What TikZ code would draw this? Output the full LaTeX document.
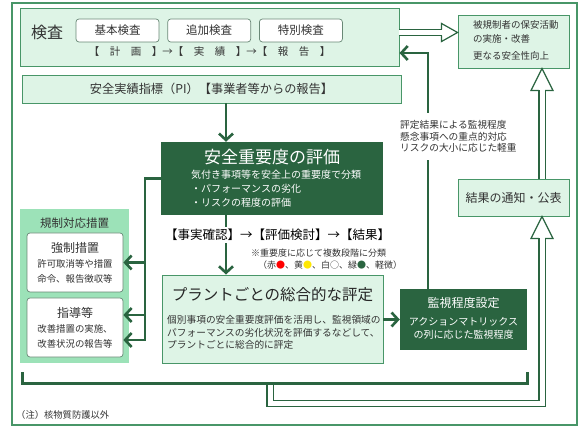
\documentclass[tikz,border=0pt]{standalone}
\usepackage{fontspec}
\setmainfont{Noto Sans CJK JP}
\usepackage{tikz}
\usetikzlibrary{arrows.meta,calc,positioning}

\definecolor{dkgreen}{RGB}{42,100,64}
\definecolor{edgegreen}{RGB}{72,150,104}
\definecolor{palegreen}{RGB}{222,244,230}
\definecolor{panelgreen}{RGB}{156,226,184}
\definecolor{inkgray}{RGB}{51,51,51}
\newcommand{\fsz}[2]{\fontsize{#1}{#2}\selectfont}

\begin{document}
\begin{tikzpicture}[x=1pt, y=-1pt,
    lightbox/.style={draw=edgegreen, fill=palegreen, line width=0.9pt, rectangle},
    darkbox/.style={fill=dkgreen, rectangle},
    subbox/.style={draw=gray!60!edgegreen, fill=white, rounded corners=3pt, line width=0.7pt, text=inkgray},
    txt/.style={inner sep=0pt, text=inkgray},
    conn/.style={draw=dkgreen, line width=2.6pt},
    arr/.style={conn, -{Straight Barb[length=6.5pt,width=14pt]}},
    hollow/.style={draw=dkgreen, line width=1.2pt, double=white, double distance=5pt},
    headline/.style={draw=dkgreen, line width=1.2pt, line join=miter}]

              \useasboundingbox (0,0) rectangle (586,435);

              % Outer frame
              \draw[draw=edgegreen, line width=1.4pt] (12,3) rectangle (577,425);

              % Inspection block
              \node[lightbox, minimum width=379pt, minimum height=58pt] (kensa) at (209.5,37) {};
              \node[txt, font=\fsz{16}{16}] (kensaT) at (47,32) {検査};
              \node[subbox, minimum width=83pt, minimum height=23pt, font=\fsz{11.5}{12}] (kihon) at (117.5,30.5) {基本検査};
              \node[subbox, minimum width=83pt, minimum height=23pt, font=\fsz{11.5}{12}, right=8pt of kihon] (tsuika) {追加検査};
              \node[subbox, minimum width=83pt, minimum height=23pt, font=\fsz{11.5}{12}, right=8pt of tsuika] (tokubetsu) {特別検査};
              \node[txt, font=\fsz{10.5}{12}] (kflow) at (209.5,52) {【　計　画　】→【　実　績　】→【　報　告　】};

              % PI box
              \node[lightbox, minimum width=379pt, minimum height=28pt, font=\fsz{12.2}{13}, text=inkgray] (pi) at (211.5,89) {安全実績指標（PI）【事業者等からの報告】};

              % Safety significance box
              \node[darkbox, minimum width=222pt, minimum height=73pt] (anzen) at (272,178.5) {};
              \node[txt, text=white, font=\fsz{17}{17}] (anzenT) at (272,157) {安全重要度の評価};
              \node[txt, text=white, font=\fsz{10}{14}, align=left, anchor=west] (anzenB) at (191,189) {気付き事項等を安全上の重要度で分類\\・パフォーマンスの劣化\\・リスクの程度の評価};

              % Plant assessment box
              \node[lightbox, minimum width=221pt, minimum height=88pt] (plant) at (272.5,319) {};
              \node[txt, font=\fsz{15.5}{16}, text=black!85] (plantT) at (272.5,295) {プラントごとの総合的な評定};
              \node[txt, font=\fsz{9.7}{12.5}, align=left, anchor=west] (plantB) at (167,332.5) {個別事項の安全重要度評価を活用し、監視領域の\\パフォーマンスの劣化状況を評価するなどして、\\プラントごとに総合的に評定};

              % Oversight level box
              \node[darkbox, minimum width=127pt, minimum height=61pt] (kanshi) at (463.5,319.5) {};
              \node[txt, text=white, font=\fsz{12}{12}] (kanshiT) at (463.5,303) {監視程度設定};
              \node[txt, text=white, font=\fsz{10}{13}, align=center] (kanshiB) at (463.5,328.5) {アクションマトリックス\\の列に応じた監視程度};

              % Licensee box and notice box
              \node[lightbox, minimum width=111pt, minimum height=53pt] (hiki) at (513.5,41.5) {};
              \node[txt, font=\fsz{9.5}{14}, align=left, anchor=west] (hikiB) at (473,40) {被規制者の保安活動\\の実施・改善\\[3pt]更なる安全性向上};
              \node[lightbox, minimum width=111pt, minimum height=37pt, font=\fsz{12}{12}, text=inkgray] (kekka) at (513.5,197.5) {結果の通知・公表};

              % Regulatory measures panel
              \node[fill=panelgreen, minimum width=109pt, minimum height=154pt] (panel) at (74.5,286) {};
              \node[txt, font=\fsz{11.5}{11}, text=black!80] (panelT) at (74.5,223) {規制対応措置};
              \node[subbox, minimum width=96pt, minimum height=59pt, align=center, font=\fsz{9.4}{15}] (kyousei) at (75,262.5) {{\fsz{12}{15}強制措置}\\許可取消等や措置\\命令、報告徴収等};
              \node[subbox, minimum width=96pt, minimum height=59pt, align=center, font=\fsz{9.4}{15}] (shidou) at (75,327.5) {{\fsz{12}{15}指導等}\\改善措置の実施、\\改善状況の報告等};

              % Main flow arrows
              \coordinate (spine) at (226,0);
              \draw[arr] (pi.south -| spine) -- (anzen.north -| spine);
              \draw[arr] (anzen.south -| spine) -- (plant.north -| spine);
              \node[fill=white, inner sep=2pt, font=\fsz{12.5}{13}, text=black] (jijitsu) at (277.5,235) {【事実確認】→【評価検討】→【結果】};
              \node[txt, font=\fsz{9}{10}, anchor=west] (note1) at (251,253) {※重要度に応じて複数段階に分類};
              \node[txt, font=\fsz{9}{10}, anchor=west] (note2) at (258,265) {（赤\textcolor{red}{●}、黄\textcolor{yellow!90!orange}{●}、白○、緑\textcolor{dkgreen}{●}、軽微）};
              \draw[arr] (plant.east |- kanshi.west) -- (kanshi.west);

              % Arrows to the regulatory measures
              \coordinate (bus) at (145,0);
              \coordinate (sdU) at ($(shidou.east)+(0,-12.5)$);
              \coordinate (sdL) at ($(shidou.east)+(0,12.5)$);
              \draw[arr] (anzen.west) -| (bus |- sdL) -- (sdL);
              \draw[arr] (bus |- kyousei.east) -- (kyousei.east);
              \draw[arr] (bus |- sdU) -- (sdU);

              % Feedback to inspection
              \coordinate (retn) at (428,53);
              \draw[arr] (kanshi.north -| retn) -- (retn) -- (retn -| kensa.east);
              \node[txt, fill=white, inner ysep=8pt, inner xsep=1pt, font=\fsz{9.7}{11.5}, align=left, anchor=west] (hyotei) at (399,136.5) {評定結果による監視程度\\懸念事項への重点的対応\\リスクの大小に応じた軽重};

              % Hollow arrows
              \coordinate (hTip) at ($(hiki.west)+(0,-9)$);
              \draw[hollow] (kensa.east |- hTip) -- ($(hTip)+(-16,0)$);
              \draw[headline] ($(hTip)+(-16,-3.1)$) -- ++(0,-5.9) -- (hTip) -- ($(hTip)+(-16,9)$) -- ++(0,-5.9);

              \coordinate (vx) at (542,0);
              \coordinate (vTip1) at (hiki.south -| vx);
              \draw[hollow] (kekka.north -| vx) -- ($(vTip1)+(0,22)$);
              \draw[headline] ($(vTip1)+(-3.1,22)$) -- ++(-7.9,0) -- (vTip1) -- ($(vTip1)+(11,22)$) -- ++(-7.9,0);

              \coordinate (vTip2) at (kekka.south -| vx);
              \coordinate (brk) at (270,383);
              \draw[hollow] (brk) -- ++(0,20.5) -| ($(vTip2)+(0,22)$);
              \draw[headline] ($(vTip2)+(-3.1,22)$) -- ++(-7.9,0) -- (vTip2) -- ($(vTip2)+(11,22)$) -- ++(-7.9,0);

              % Bracket
              \draw[conn, line width=3pt] (22,372) -- (22,383) -- (527,383) -- (527,372);

              % Footnote
              \node[txt, font=\fsz{9.3}{10}, anchor=west] (chu) at (16,415) {（注）核物質防護以外};
\end{tikzpicture}
\end{document}
